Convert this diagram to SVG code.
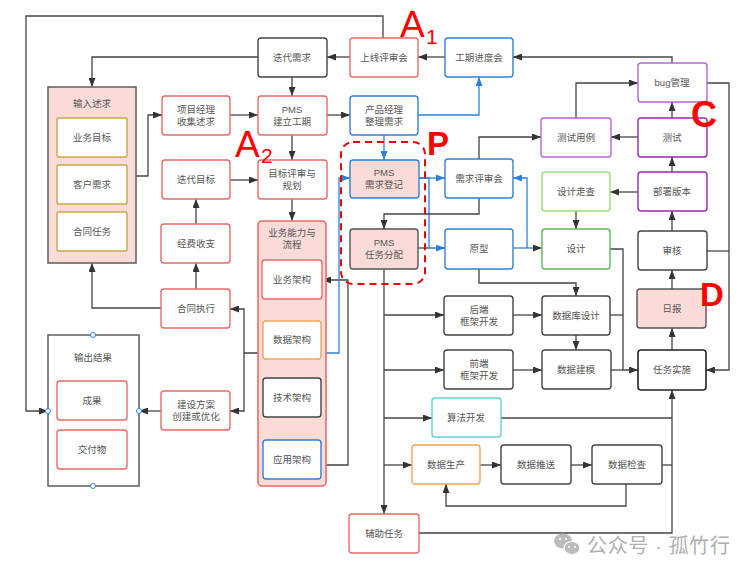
<svg xmlns="http://www.w3.org/2000/svg" width="754" height="574" viewBox="0 0 754 574">
<defs>
<marker id="ar" viewBox="0 0 10 10" refX="10" refY="5" markerWidth="9" markerHeight="7" markerUnits="userSpaceOnUse" orient="auto" preserveAspectRatio="none"><path d="M0,0 L10,5 L0,10 z" fill="#333"/></marker>
<marker id="ab" viewBox="0 0 10 10" refX="10" refY="5" markerWidth="9" markerHeight="7" markerUnits="userSpaceOnUse" orient="auto" preserveAspectRatio="none"><path d="M0,0 L10,5 L0,10 z" fill="#2f80d8"/></marker>
</defs>
<style>
text{font-family:"Liberation Sans","Noto Sans CJK SC",sans-serif;font-size:9.5px;fill:#555;text-anchor:middle}
.r{fill:#fff;stroke:#ea6b66;stroke-width:1.4}
.b{fill:#fff;stroke:#2f80d8;stroke-width:1.4}
.k{fill:#fff;stroke:#444;stroke-width:1.4}
.kd{fill:#fff;stroke:#222;stroke-width:1.6}
.pb{fill:#fadbd8;stroke:#2f80d8;stroke-width:1.4}
.pk{fill:#fadbd8;stroke:#555;stroke-width:1.4}
.y{fill:#fff;stroke:#c6a94e;stroke-width:1.4}
.o{fill:#fff;stroke:#f2a65a;stroke-width:1.4}
.g{fill:#fff;stroke:#5cb85c;stroke-width:1.4}
.lg{fill:#fff;stroke:#9ddc7e;stroke-width:1.4}
.c{fill:#fff;stroke:#5fd3d3;stroke-width:1.4}
.p{fill:#fff;stroke:#b564d6;stroke-width:1.4}
.pd{fill:#fff;stroke:#9c27b0;stroke-width:1.4}
.ln{fill:none;stroke:#444;stroke-width:1.3}
.lb{fill:none;stroke:#2f80d8;stroke-width:1.3}
.big{fill:#f00;text-anchor:start;font-family:"Liberation Sans",sans-serif}
.pt{fill:#fff;stroke:#2f80d8;stroke-width:1}
</style>
<rect width="754" height="574" fill="#fff"/>

<g id="connectors">
<path class="ln" d="M383,38 V16 H26 V411 H48" marker-end="url(#ar)"/>
<path class="ln" d="M258,57 H92 V87" marker-end="url(#ar)"/>
<path class="ln" d="M350,57 H327" marker-end="url(#ar)"/>
<path class="ln" d="M445,57 H418" marker-end="url(#ar)"/>
<path class="ln" d="M672,63 V57 H513" marker-end="url(#ar)"/>
<path class="ln" d="M292,77 V96" marker-end="url(#ar)"/>
<path class="ln" d="M230,115 H258" marker-end="url(#ar)"/>
<path class="ln" d="M327,115 H350" marker-end="url(#ar)"/>
<path class="lb" d="M418,115 H479 V77" marker-end="url(#ab)"/>
<path class="lb" d="M384,135 V160" marker-end="url(#ab)"/>
<path class="ln" d="M136,176 H148 V115 H162" marker-end="url(#ar)"/>
<path class="ln" d="M292,135 V160" marker-end="url(#ar)"/>
<path class="ln" d="M230,180 H258" marker-end="url(#ar)"/>
<path class="ln" d="M292,199 V221" marker-end="url(#ar)"/>
<path class="ln" d="M196,224 V199" marker-end="url(#ar)"/>
<path class="ln" d="M196,289 V263" marker-end="url(#ar)"/>
<path class="ln" d="M161,308 H92 V263" marker-end="url(#ar)"/>
<path class="ln" d="M161,411 H139" marker-end="url(#ar)"/>
<path class="ln" d="M258,353 H244 V309 H230" marker-end="url(#ar)"/>
<path class="ln" d="M244,353 V411 H230" marker-end="url(#ar)"/>
<path class="ln" d="M292,299 V321" marker-end="url(#ar)"/>
<path class="ln" d="M292,359 V378" marker-end="url(#ar)"/>
<path class="ln" d="M292,417 V440" marker-end="url(#ar)"/>
<path class="ln" d="M322,465 H348 V280 H322" marker-end="url(#ar)"/>
<path class="lb" d="M321,353 H339 V178 H350" marker-end="url(#ab)"/>
<path class="lb" d="M419,178 H445" marker-end="url(#ab)"/>
<path class="ln" d="M418,248 H429"/>
<path class="lb" d="M419,178 H429 V248 H445" marker-end="url(#ab)"/>
<path class="ln" d="M479,198 V214 H384 V229" marker-end="url(#ar)"/>
<path class="ln" d="M479,159 V137 H541" marker-end="url(#ar)"/>
<path class="lb" d="M513,248 H542" marker-end="url(#ar)"/>
<path class="lb" d="M527,248 V178 H513" marker-end="url(#ab)"/>
<path class="ln" d="M479,269 V283 H576 V296" marker-end="url(#ar)"/>
<path class="ln" d="M638,137 H611" marker-end="url(#ar)"/>
<path class="ln" d="M576,118 V83 H638" marker-end="url(#ar)"/>
<path class="ln" d="M672,118 V102" marker-end="url(#ar)"/>
<path class="ln" d="M672,172 V157" marker-end="url(#ar)"/>
<path class="ln" d="M638,192 H610" marker-end="url(#ar)"/>
<path class="ln" d="M576,211 V229" marker-end="url(#ar)"/>
<path class="ln" d="M707,83 H729 V370 H706" marker-end="url(#ar)"/>
<path class="ln" d="M707,251 H729"/>
<path class="ln" d="M610,249 H623 V370 H638" marker-end="url(#ar)"/>
<path class="ln" d="M610,315 H623"/>
<path class="ln" d="M611,370 H623"/>
<path class="ln" d="M672,231 V211" marker-end="url(#ar)"/>
<path class="ln" d="M672,289 V270" marker-end="url(#ar)"/>
<path class="ln" d="M672,350 V328" marker-end="url(#ar)"/>
<path class="ln" d="M513,315 H542" marker-end="url(#ar)"/>
<path class="ln" d="M513,370 H542" marker-end="url(#ar)"/>
<path class="ln" d="M576,335 V350" marker-end="url(#ar)"/>
<path class="ln" d="M384,269 V514" marker-end="url(#ar)"/>
<path class="ln" d="M384,315 H444" marker-end="url(#ar)"/>
<path class="ln" d="M384,370 H444" marker-end="url(#ar)"/>
<path class="ln" d="M384,418 H432" marker-end="url(#ar)"/>
<path class="ln" d="M384,465 H412" marker-end="url(#ar)"/>
<path class="ln" d="M501,418 H672"/>
<path class="ln" d="M662,465 H672"/>
<path class="ln" d="M419,533 H672 V390" marker-end="url(#ar)"/>
<path class="ln" d="M480,465 H501" marker-end="url(#ar)"/>
<path class="ln" d="M571,465 H592" marker-end="url(#ar)"/>
<path class="ln" d="M626,484 V506 H446 V484" marker-end="url(#ar)"/>
</g>

<g id="input">
<rect x="48" y="87" width="88" height="176" fill="#fadbd8" stroke="#666" stroke-width="1.6"/>
<text x="92" y="107">输入述求</text>
<rect class="y" x="57" y="118" width="70" height="39" rx="2"/><text x="92" y="141">业务目标</text>
<rect class="y" x="57" y="165" width="70" height="39" rx="2"/><text x="92" y="188">客户需求</text>
<rect class="y" x="57" y="212" width="70" height="39" rx="2"/><text x="92" y="235">合同任务</text>
</g>

<g id="output">
<rect x="48" y="335" width="91" height="151" fill="#fff" stroke="#666" stroke-width="1.6"/>
<text x="93" y="361">输出结果</text>
<rect class="r" x="57" y="381" width="70" height="39" rx="3"/><text x="92" y="404">成果</text>
<rect class="r" x="57" y="430" width="70" height="39" rx="3"/><text x="92" y="453">交付物</text>
<circle class="pt" cx="93" cy="335" r="2.5"/>
<circle class="pt" cx="93" cy="486" r="2.5"/>
<circle class="pt" cx="48" cy="411" r="2.5"/>
<circle class="pt" cx="139" cy="411" r="2.5"/>
</g>

<g id="pm-collect"><rect class="r" x="162" y="96" width="68" height="39" rx="3"/><text x="196" y="113">项目经理</text><text x="196" y="125">收集述求</text></g>
<g id="iter-goal"><rect class="r" x="162" y="160" width="68" height="39" rx="3"/><text x="196" y="183">迭代目标</text></g>
<g id="budget"><rect class="r" x="161" y="224" width="69" height="39" rx="3"/><text x="196" y="247">经费收支</text></g>
<g id="contract"><rect class="r" x="161" y="289" width="69" height="39" rx="3"/><text x="196" y="312">合同执行</text></g>
<g id="build"><rect class="r" x="161" y="391" width="69" height="39" rx="3"/><text x="196" y="408">建设方案</text><text x="196" y="420">创建或优化</text></g>

<g id="iter-req"><rect class="k" x="258" y="38" width="69" height="39" rx="3"/><text x="292" y="61">迭代需求</text></g>
<g id="launch"><rect class="r" x="350" y="38" width="68" height="39" rx="3"/><text x="384" y="61">上线评审会</text></g>
<g id="progress"><rect class="b" x="445" y="38" width="68" height="39" rx="3"/><text x="479" y="61">工期进度会</text></g>
<g id="pms-schedule"><rect class="r" x="258" y="96" width="69" height="39" rx="3"/><text x="292" y="113">PMS</text><text x="292" y="125">建立工期</text></g>
<g id="po"><rect class="b" x="350" y="96" width="68" height="39" rx="3"/><text x="384" y="113">产品经理</text><text x="384" y="125">整理需求</text></g>
<g id="goal-review"><rect class="r" x="258" y="160" width="69" height="39" rx="3"/><text x="292" y="177">目标评审与</text><text x="292" y="189">规划</text></g>

<g id="biz">
<rect x="258" y="221" width="68" height="265" rx="4" fill="#fadbd8" stroke="#ea6b66" stroke-width="1.6"/>
<text x="292" y="236">业务能力与</text><text x="292" y="248">流程</text>
<rect class="r" x="262" y="260" width="60" height="39" rx="3"/><text x="292" y="283">业务架构</text>
<rect class="o" x="263" y="321" width="58" height="38" rx="3"/><text x="292" y="343">数据架构</text>
<rect class="k" x="263" y="378" width="58" height="39" rx="3"/><text x="292" y="401">技术架构</text>
<rect class="b" x="263" y="440" width="58" height="39" rx="3"/><text x="292" y="463">应用架构</text>
</g>

<g id="pms-req"><rect class="pb" x="350" y="160" width="69" height="38" rx="3"/><text x="384" y="176">PMS</text><text x="384" y="188">需求登记</text></g>
<g id="pms-task"><rect class="pk" x="350" y="229" width="68" height="40" rx="3"/><text x="384" y="246">PMS</text><text x="384" y="258">任务分配</text></g>
<g id="p-group"><rect x="341" y="142" width="84" height="142" rx="12" fill="none" stroke="#e00" stroke-width="2" stroke-dasharray="7,5"/></g>

<g id="req-review"><rect class="b" x="445" y="159" width="68" height="39" rx="3"/><text x="479" y="182">需求评审会</text></g>
<g id="proto"><rect class="b" x="445" y="229" width="68" height="40" rx="3"/><text x="479" y="252">原型</text></g>
<g id="backend"><rect class="k" x="444" y="296" width="69" height="39" rx="3"/><text x="479" y="313">后端</text><text x="479" y="325">框架开发</text></g>
<g id="frontend"><rect class="k" x="444" y="350" width="69" height="39" rx="3"/><text x="479" y="367">前端</text><text x="479" y="379">框架开发</text></g>
<g id="algo"><rect class="c" x="432" y="398" width="69" height="39" rx="3"/><text x="466" y="421">算法开发</text></g>
<g id="dprod"><rect class="o" x="412" y="445" width="68" height="39" rx="3"/><text x="446" y="468">数据生产</text></g>
<g id="dpush"><rect class="k" x="501" y="445" width="70" height="39" rx="3"/><text x="536" y="468">数据推送</text></g>
<g id="dcheck"><rect class="k" x="592" y="445" width="70" height="39" rx="3"/><text x="627" y="468">数据检查</text></g>
<g id="aux"><rect class="r" x="349" y="514" width="70" height="39" rx="3"/><text x="384" y="537">辅助任务</text></g>

<g id="testcase"><rect class="p" x="541" y="118" width="70" height="39" rx="3"/><text x="576" y="141">测试用例</text></g>
<g id="test"><rect class="pd" x="638" y="118" width="69" height="39" rx="3"/><text x="672" y="141">测试</text></g>
<g id="bug"><rect class="p" x="638" y="63" width="69" height="39" rx="3"/><text x="672" y="86">bug管理</text></g>
<g id="deploy"><rect class="pd" x="638" y="172" width="69" height="39" rx="3"/><text x="672" y="195">部署版本</text></g>
<g id="walk"><rect class="lg" x="542" y="172" width="68" height="39" rx="3"/><text x="576" y="195">设计走查</text></g>
<g id="design"><rect class="g" x="542" y="229" width="68" height="40" rx="3"/><text x="576" y="252">设计</text></g>
<g id="audit"><rect class="k" x="638" y="231" width="69" height="39" rx="3"/><text x="672" y="254">审核</text></g>
<g id="daily"><rect class="pk" x="637" y="289" width="69" height="39" rx="3"/><text x="672" y="312">日报</text></g>
<g id="impl"><rect class="kd" x="638" y="350" width="68" height="40" rx="3"/><text x="672" y="373">任务实施</text></g>
<g id="dbdesign"><rect class="k" x="542" y="296" width="68" height="39" rx="3"/><text x="576" y="319">数据库设计</text></g>
<g id="dmodel"><rect class="k" x="542" y="350" width="69" height="39" rx="3"/><text x="576" y="373">数据建模</text></g>

<g id="labels">
<text class="big" x="400" y="37" style="font-size:37px">A</text>
<text class="big" x="426" y="44" style="font-size:21px">1</text>
<text class="big" x="235" y="157" style="font-size:37px">A</text>
<text class="big" x="261" y="163" style="font-size:21px">2</text>
<text class="big" x="427" y="155" style="font-size:33px;font-weight:bold">P</text>
<text class="big" x="691" y="127" style="font-size:36px;font-weight:bold">C</text>
<text class="big" x="700" y="306" style="font-size:33px;font-weight:bold">D</text>
</g>

<g id="watermark">
<ellipse cx="563" cy="541" rx="9" ry="7.5" fill="#bbb"/>
<ellipse cx="572" cy="548" rx="8" ry="6.5" fill="#bbb" stroke="#fff" stroke-width="1.2"/>
<circle cx="560" cy="539" r="1.1" fill="#fff"/><circle cx="566" cy="539" r="1.1" fill="#fff"/>
<circle cx="569" cy="547" r="1" fill="#fff"/><circle cx="575" cy="547" r="1" fill="#fff"/>
<text x="587" y="553" style="font-size:20px;fill:#b0b0b0;text-anchor:start" textLength="143">公众号 · 孤竹行</text>
</g>
</svg>
